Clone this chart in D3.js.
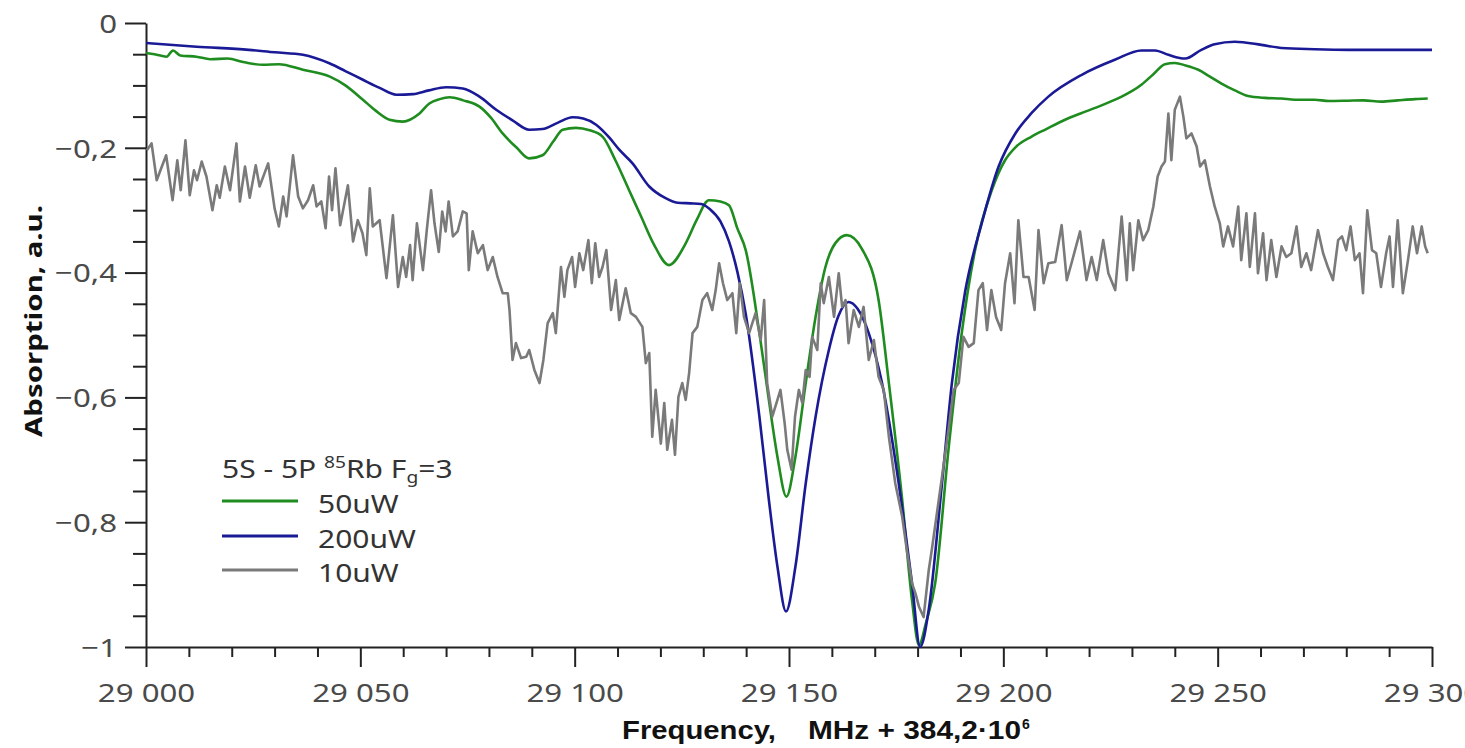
<!DOCTYPE html>
<html>
<head>
<meta charset="utf-8">
<script src="https://cdn.jsdelivr.net/npm/d3@7"></script>
<style>
  html, body { margin: 0; padding: 0; background: #fff; overflow: hidden; }
  svg { display: block; }
</style>
</head>
<body>
<svg id="chart" width="1465" height="748"></svg>
<script>
// ---------------- DATA ----------------
const xMajorTicks = [29000, 29050, 29100, 29150, 29200, 29250, 29300];
const xTickLabels = ["29 000", "29 050", "29 100", "29 150", "29 200", "29 250", "29 300"];
const yMajorTicks = [0, -0.2, -0.4, -0.6, -0.8, -1];
const yTickLabels = ["0", "\u22120,2", "\u22120,4", "\u22120,6", "\u22120,8", "\u22121"];
const seriesNames = ["50uW", "200uW", "10uW"];
const seriesColors = ["#1f8c1f", "#1a1a96", "#7a7a7a"];

// 50 uW  [frequency offset (MHz), absorption]
const series50uW = [
  [29000,-0.048],[29002,-0.050],[29004.8,-0.054],[29006.3,-0.044],[29008,-0.052],[29011.8,-0.054],
  [29015,-0.058],[29019,-0.057],[29023,-0.063],[29027.3,-0.067],[29031,-0.066],[29036.6,-0.075],
  [29042.9,-0.086],[29046.5,-0.100],[29050.6,-0.123],[29053.5,-0.140],[29056.8,-0.155],[29059.9,-0.158],
  [29063.8,-0.145],[29066.1,-0.129],[29068.5,-0.122],[29070.8,-0.119],[29074,-0.124],[29077.8,-0.134],
  [29080.5,-0.152],[29083.2,-0.177],[29086.5,-0.200],[29089.4,-0.217],[29092.5,-0.212],[29095,-0.190],
  [29097.2,-0.171],[29100.3,-0.168],[29103.5,-0.172],[29106.5,-0.182],[29109.5,-0.220],[29112.7,-0.268],
  [29115.5,-0.310],[29118.5,-0.355],[29122,-0.388],[29125.9,-0.353],[29128.5,-0.315],[29131.3,-0.284],
  [29134,-0.286],[29136,-0.292],[29138,-0.330],[29139.9,-0.364],[29143.1,-0.497],[29145.3,-0.604],
  [29147.3,-0.695],[29149.4,-0.759],[29151.5,-0.695],[29153.9,-0.577],[29156.2,-0.471],[29158.5,-0.391],
  [29160.9,-0.352],[29163.5,-0.340],[29167,-0.362],[29170.9,-0.444],[29173.3,-0.577],[29176.4,-0.764],
  [29178.7,-0.925],[29180.3,-0.997],[29182,-0.960],[29184.1,-0.898],[29187.2,-0.684],[29190.3,-0.497],
  [29193.4,-0.364],[29197.3,-0.268],[29200.4,-0.220],[29203,-0.198],[29206.6,-0.182],[29210,-0.170],
  [29214.4,-0.155],[29218,-0.145],[29222.2,-0.134],[29225,-0.126],[29227.6,-0.118],[29232.2,-0.099],
  [29235,-0.082],[29237.7,-0.066],[29240,-0.064],[29242.5,-0.068],[29245.5,-0.075],[29248,-0.085],
  [29250.9,-0.097],[29254,-0.108],[29257.1,-0.117],[29261,-0.120],[29264.9,-0.121],[29268,-0.123],
  [29272.6,-0.123],[29276,-0.125],[29280.4,-0.1245],[29284,-0.124],[29288.2,-0.126],[29292,-0.124],
  [29296,-0.122],[29299,-0.121]
];

// 200 uW
const series200uW = [
  [29000,-0.032],[29011.8,-0.038],[29024,-0.043],[29030,-0.047],[29036.6,-0.051],[29042.9,-0.065],
  [29046.5,-0.077],[29050.6,-0.091],[29054.5,-0.104],[29058.4,-0.115],[29062.3,-0.114],[29066,-0.108],
  [29070,-0.103],[29073.9,-0.105],[29077.8,-0.118],[29081.7,-0.139],[29085.5,-0.156],[29089.4,-0.171],
  [29092.5,-0.170],[29096,-0.160],[29099.5,-0.151],[29102,-0.153],[29105,-0.163],[29108,-0.183],
  [29110.4,-0.203],[29113.5,-0.225],[29117.4,-0.262],[29121,-0.280],[29124,-0.288],[29127,-0.289],
  [29129.5,-0.290],[29131.5,-0.298],[29134,-0.318],[29136,-0.350],[29138,-0.400],[29139.9,-0.466],
  [29143.1,-0.631],[29145.3,-0.764],[29147.3,-0.871],[29149.3,-0.943],[29151.5,-0.871],[29153.9,-0.738],
  [29156.2,-0.631],[29159.3,-0.524],[29161.5,-0.470],[29163.9,-0.447],[29166,-0.458],[29168.6,-0.497],
  [29171.7,-0.577],[29175.6,-0.738],[29178.7,-0.898],[29180.6,-1.0],[29182.6,-0.940],[29185.7,-0.737],
  [29188,-0.577],[29191.1,-0.430],[29195,-0.320],[29198.9,-0.230],[29202.8,-0.177],[29206.5,-0.145],
  [29210.5,-0.118],[29218.3,-0.083],[29226,-0.059],[29232.2,-0.044],[29235.4,-0.044],[29238.5,-0.051],
  [29242.4,-0.057],[29246.2,-0.043],[29249.3,-0.034],[29254,-0.030],[29260.2,-0.035],[29264.9,-0.040],
  [29272.6,-0.042],[29280.4,-0.043],[29290,-0.043],[29300,-0.043]
];

// 10 uW (noisy)
const series10uW = [
  [29000.2,-0.204],[29001.3,-0.193],[29002.5,-0.252],[29003.7,-0.230],[29004.7,-0.212],[29006.2,-0.284],
  [29007.3,-0.220],[29008.1,-0.268],[29009.2,-0.188],[29010.2,-0.276],[29011.2,-0.236],[29011.9,-0.252],
  [29013.0,-0.222],[29014.1,-0.246],[29015.5,-0.300],[29016.5,-0.260],[29017.2,-0.280],[29018.4,-0.230],
  [29019.6,-0.268],[29021.1,-0.193],[29021.9,-0.286],[29023.1,-0.230],[29024.2,-0.280],[29025.6,-0.228],
  [29026.5,-0.262],[29028.5,-0.225],[29030.0,-0.297],[29031.0,-0.326],[29032.0,-0.278],[29032.8,-0.310],
  [29034.3,-0.212],[29035.5,-0.278],[29036.6,-0.297],[29037.8,-0.284],[29039.0,-0.260],[29039.8,-0.294],
  [29040.9,-0.286],[29041.9,-0.329],[29042.7,-0.246],[29043.4,-0.300],[29044.2,-0.233],[29045.3,-0.324],
  [29047.1,-0.260],[29048.3,-0.350],[29049.4,-0.316],[29050.5,-0.337],[29051.4,-0.372],[29052.2,-0.265],
  [29052.9,-0.326],[29054.5,-0.316],[29056.1,-0.409],[29057.6,-0.308],[29058.8,-0.423],[29059.9,-0.375],
  [29060.7,-0.407],[29061.6,-0.356],[29062.2,-0.412],[29063.2,-0.321],[29064.6,-0.396],[29065.5,-0.332],
  [29066.5,-0.268],[29067.3,-0.321],[29068.3,-0.367],[29069.1,-0.302],[29069.9,-0.334],[29070.6,-0.286],
  [29071.6,-0.342],[29072.7,-0.334],[29073.9,-0.302],[29074.8,-0.305],[29075.3,-0.396],[29076.2,-0.334],
  [29077.4,-0.369],[29078.6,-0.356],[29079.7,-0.396],[29080.9,-0.375],[29082.0,-0.407],[29083.2,-0.433],
  [29084.4,-0.433],[29084.8,-0.460],[29085.5,-0.540],[29086.3,-0.513],[29087.5,-0.537],[29088.7,-0.535],
  [29089.4,-0.524],[29090.6,-0.556],[29091.8,-0.577],[29092.7,-0.540],[29093.7,-0.481],[29094.9,-0.465],
  [29095.6,-0.497],[29096.8,-0.391],[29097.6,-0.439],[29098.3,-0.396],[29099.4,-0.375],[29100.1,-0.423],
  [29101.1,-0.369],[29102.0,-0.396],[29103.2,-0.348],[29104.0,-0.417],[29104.8,-0.353],[29105.7,-0.407],
  [29106.5,-0.391],[29107.4,-0.364],[29108.5,-0.460],[29109.6,-0.412],[29110.4,-0.476],[29111.9,-0.425],
  [29113.1,-0.465],[29114.3,-0.471],[29115.8,-0.487],[29116.6,-0.545],[29117.4,-0.529],[29118.1,-0.663],
  [29118.9,-0.588],[29120.1,-0.674],[29120.9,-0.609],[29121.6,-0.684],[29122.7,-0.636],[29123.4,-0.692],
  [29124.2,-0.599],[29125.1,-0.577],[29125.9,-0.604],[29126.7,-0.561],[29127.5,-0.497],[29128.6,-0.487],
  [29129.8,-0.444],[29130.9,-0.433],[29132.1,-0.460],[29132.9,-0.428],[29133.7,-0.385],[29134.6,-0.417],
  [29135.6,-0.444],[29136.8,-0.433],[29137.7,-0.497],[29138.5,-0.417],[29139.5,-0.471],[29140.7,-0.497],
  [29142.2,-0.465],[29143.4,-0.508],[29144.2,-0.444],[29144.9,-0.577],[29146.1,-0.631],[29147.3,-0.604],
  [29148.0,-0.588],[29149.0,-0.642],[29149.6,-0.684],[29150.6,-0.716],[29151.4,-0.631],[29152.3,-0.588],
  [29153.1,-0.609],[29153.9,-0.556],[29154.8,-0.567],[29155.4,-0.503],[29156.6,-0.524],[29157.4,-0.417],
  [29158.1,-0.449],[29159.3,-0.407],[29160.5,-0.471],[29161.6,-0.401],[29162.4,-0.455],[29163.2,-0.444],
  [29163.9,-0.513],[29165.1,-0.460],[29166.3,-0.487],[29167.4,-0.455],[29168.6,-0.540],[29169.8,-0.508],
  [29170.9,-0.567],[29172.1,-0.588],[29173.3,-0.663],[29174.8,-0.738],[29176.4,-0.791],[29177.5,-0.845],
  [29178.7,-0.898],[29179.5,-0.914],[29180.3,-0.935],[29181.4,-0.952],[29182.6,-0.877],[29183.3,-0.845],
  [29185.6,-0.732],[29187.2,-0.652],[29188.4,-0.588],[29189.6,-0.577],[29190.7,-0.503],[29191.9,-0.519],
  [29193.1,-0.513],[29194.2,-0.428],[29195.2,-0.417],[29196.2,-0.492],[29197.2,-0.428],[29198.3,-0.471],
  [29199.5,-0.492],[29200.4,-0.417],[29201.6,-0.369],[29202.6,-0.449],[29203.5,-0.316],[29204.7,-0.407],
  [29205.9,-0.407],[29207.3,-0.460],[29208.2,-0.332],[29209.4,-0.417],[29210.5,-0.385],[29212.1,-0.383],
  [29213.6,-0.324],[29214.8,-0.412],[29215.9,-0.385],[29217.9,-0.334],[29219.4,-0.412],[29220.6,-0.375],
  [29221.8,-0.412],[29223.3,-0.348],[29224.5,-0.401],[29226.1,-0.428],[29227.6,-0.310],[29228.8,-0.412],
  [29229.5,-0.321],[29230.3,-0.396],[29231.5,-0.316],[29232.6,-0.348],[29233.8,-0.332],[29235.0,-0.294],
  [29236.0,-0.246],[29236.9,-0.230],[29237.7,-0.222],[29238.5,-0.145],[29239.2,-0.220],[29240.0,-0.139],
  [29241.2,-0.118],[29242.0,-0.150],[29242.7,-0.185],[29243.9,-0.177],[29245.1,-0.198],[29245.9,-0.230],
  [29247.0,-0.220],[29248.2,-0.262],[29249.3,-0.294],[29250.5,-0.321],[29251.3,-0.358],[29252.4,-0.326],
  [29253.6,-0.358],[29254.8,-0.294],[29255.5,-0.380],[29256.7,-0.305],[29257.5,-0.391],[29258.7,-0.305],
  [29259.4,-0.401],[29260.6,-0.337],[29261.4,-0.412],[29262.5,-0.348],[29263.7,-0.407],[29264.9,-0.358],
  [29266.0,-0.375],[29267.2,-0.369],[29268.4,-0.326],[29269.5,-0.391],[29270.7,-0.369],[29271.8,-0.396],
  [29273.4,-0.332],[29274.6,-0.369],[29275.7,-0.391],[29276.9,-0.412],[29278.1,-0.348],[29279.0,-0.342],
  [29280.0,-0.364],[29281.0,-0.326],[29282.0,-0.380],[29283.1,-0.369],[29283.9,-0.433],[29284.9,-0.300],
  [29286.0,-0.364],[29287.0,-0.369],[29288.1,-0.423],[29289.3,-0.369],[29290.1,-0.342],[29290.9,-0.423],
  [29292.0,-0.316],[29293.2,-0.433],[29294.4,-0.380],[29295.5,-0.326],[29296.5,-0.369],[29297.6,-0.326],
  [29298.4,-0.358],[29299.0,-0.369]
];

// ---------------- CHART ----------------
const svg = d3.select("#chart");
const plot = { left: 146, right: 1432, top: 23, bottom: 647 };
const STRETCH = 1.2;
const FONT = "'Noto Sans', 'Open Sans', sans-serif";

const x = d3.scaleLinear().domain([29000, 29300]).range([plot.left, plot.right]);
const y = d3.scaleLinear().domain([-1, 0]).range([plot.bottom, plot.top]);

const axisColor = "#222";
const labelColor = "#4a4a4a";

// minor ticks
const xMinor = d3.range(29000, 29301, 10).filter(v => !xMajorTicks.includes(v));
const yMinor = d3.range(0, 21, 1).map(i => -i * 0.05).filter(v => !yMajorTicks.some(m => Math.abs(m - v) < 1e-9));

svg.append("g")
  .attr("transform", `translate(0,${plot.bottom})`)
  .call(d3.axisBottom(x).tickValues(xMinor).tickSize(10).tickSizeOuter(0).tickFormat(""))
  .call(g => g.select(".domain").remove())
  .call(g => g.selectAll("line").attr("stroke", axisColor).attr("stroke-width", 2));

svg.append("g")
  .attr("transform", `translate(${plot.left},0)`)
  .call(d3.axisLeft(y).tickValues(yMinor).tickSize(13).tickSizeOuter(0).tickFormat(""))
  .call(g => g.select(".domain").remove())
  .call(g => g.selectAll("line").attr("stroke", axisColor).attr("stroke-width", 2));

const gx = svg.append("g")
  .attr("transform", `translate(0,${plot.bottom})`)
  .call(d3.axisBottom(x).tickValues(xMajorTicks).tickSize(20).tickSizeOuter(0).tickPadding(17)
    .tickFormat((d, i) => xTickLabels[i]));
gx.select(".domain").attr("stroke", axisColor).attr("stroke-width", 2);
gx.selectAll("line").attr("stroke", axisColor).attr("stroke-width", 2);
gx.selectAll("text")
  .attr("fill", labelColor)
  .style("font-family", FONT)
  .style("font-size", "26px")
  .attr("transform", `scale(${STRETCH},1)`);

const gy = svg.append("g")
  .attr("transform", `translate(${plot.left},0)`)
  .call(d3.axisLeft(y).tickValues(yMajorTicks).tickSize(21).tickSizeOuter(0).tickPadding(0)
    .tickFormat((d, i) => yTickLabels[i]));
gy.select(".domain").attr("stroke", axisColor).attr("stroke-width", 2);
gy.selectAll("line").attr("stroke", axisColor).attr("stroke-width", 2);
gy.selectAll("text")
  .attr("fill", labelColor)
  .attr("x", 0)
  .attr("dy", "0.36em")
  .style("font-family", FONT)
  .style("font-size", "26px")
  .attr("transform", `translate(-29,0) scale(${STRETCH},1)`);

// Lines
const smooth = d3.line().x(d => x(d[0])).y(d => y(d[1])).curve(d3.curveMonotoneX);
const raw = d3.line().x(d => x(d[0])).y(d => y(d[1]));

const linesG = svg.append("g");
linesG.append("path").datum(series50uW)
  .attr("d", smooth).attr("fill", "none").attr("stroke", seriesColors[0])
  .attr("stroke-width", 2.6).attr("stroke-linejoin", "round");
linesG.append("path").datum(series200uW)
  .attr("d", smooth).attr("fill", "none").attr("stroke", seriesColors[1])
  .attr("stroke-width", 2.6).attr("stroke-linejoin", "round");
linesG.append("path").datum(series10uW)
  .attr("d", raw).attr("fill", "none").attr("stroke", seriesColors[2])
  .attr("stroke-width", 2.6).attr("stroke-linejoin", "round");

// Legend
const lg = svg.append("g");
const title = lg.append("text")
  .attr("transform", `translate(222,478) scale(${STRETCH},1)`)
  .attr("fill", "#333")
  .style("font-family", FONT)
  .style("font-size", "25px");
title.append("tspan").text("5S - 5P ");
title.append("tspan").text("85").style("font-size", "16px").attr("dy", -10);
title.append("tspan").text("Rb F").attr("dy", 10);
title.append("tspan").text("g").style("font-size", "16px").attr("dy", 5);
title.append("tspan").text("=3").attr("dy", -5);

const legendRows = [501, 536, 570];
seriesNames.forEach((name, i) => {
  lg.append("line")
    .attr("x1", 222).attr("x2", 298)
    .attr("y1", legendRows[i]).attr("y2", legendRows[i])
    .attr("stroke", seriesColors[i]).attr("stroke-width", 3);
  lg.append("text")
    .attr("transform", `translate(318,${legendRows[i] + 12}) scale(${STRETCH},1)`)
    .attr("fill", "#333")
    .style("font-family", FONT)
    .style("font-size", "25px")
    .text(name);
});

// Axis titles
svg.append("text")
  .attr("transform", `translate(42,321) rotate(-90)`)
  .attr("text-anchor", "middle")
  .attr("fill", "#111")
  .style("font-family", FONT)
  .style("font-weight", "bold")
  .style("font-size", "24px")
  .attr("textLength", 232)
  .attr("lengthAdjust", "spacingAndGlyphs")
  .text("Absorption, a.u.");

const narrow = "'Liberation Sans Narrow', 'Liberation Sans', Arial, sans-serif";
svg.append("text")
  .attr("x", 622).attr("y", 739)
  .attr("fill", "#111")
  .style("font-family", narrow)
  .style("font-weight", "bold")
  .style("font-size", "25px")
  .attr("textLength", 154)
  .attr("lengthAdjust", "spacingAndGlyphs")
  .text("Frequency,");
svg.append("text")
  .attr("x", 808).attr("y", 739)
  .attr("fill", "#111")
  .style("font-family", narrow)
  .style("font-weight", "bold")
  .style("font-size", "25px")
  .attr("textLength", 213)
  .attr("lengthAdjust", "spacingAndGlyphs")
  .text("MHz + 384,2\u00B710");
svg.append("text")
  .attr("x", 1022).attr("y", 729)
  .attr("fill", "#111")
  .style("font-family", narrow)
  .style("font-weight", "bold")
  .style("font-size", "14px")
  .text("6");
</script>
</body>
</html>
